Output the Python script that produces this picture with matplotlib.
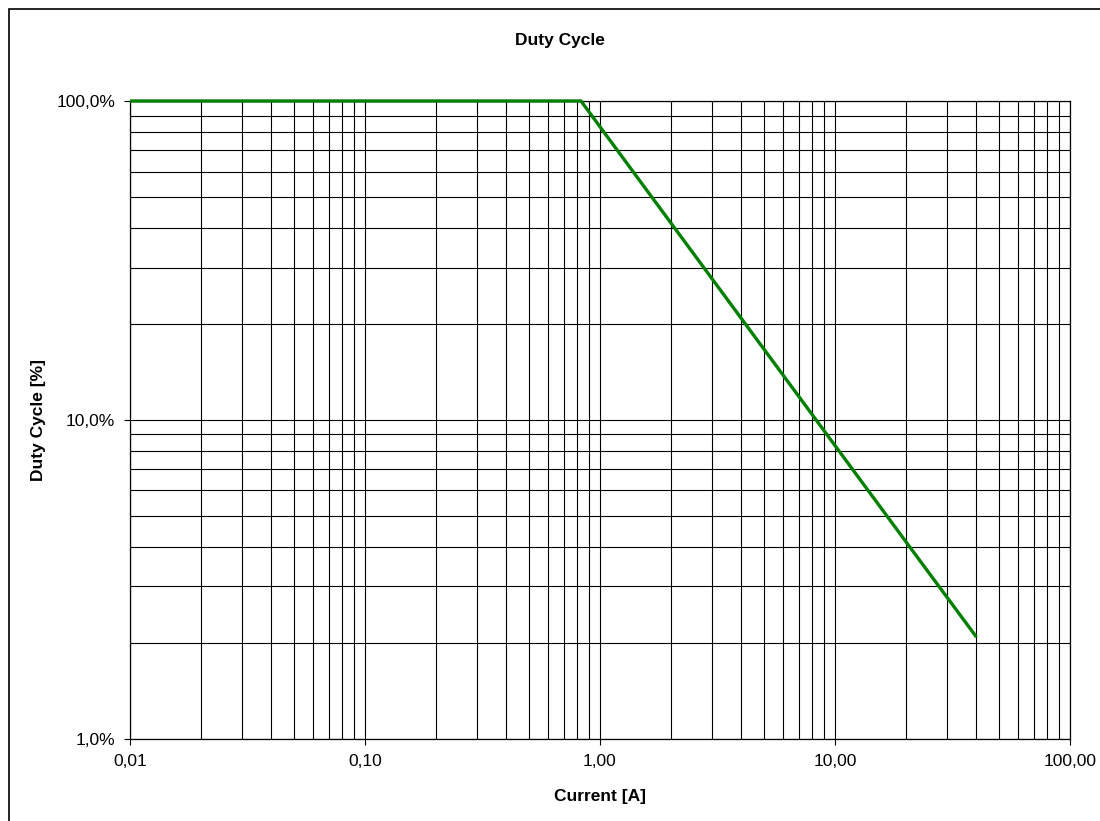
import matplotlib
matplotlib.use("Agg")
import matplotlib.pyplot as plt
from matplotlib.ticker import LogLocator, NullFormatter
from matplotlib.patches import Rectangle

plt.rcParams["font.family"] = ["Liberation Sans", "DejaVu Sans"]

# ── Data ──────────────────────────────────────────────────────────────────────
current = [0.01, 0.83, 1.0, 2.0, 5.0, 10.0, 20.0, 40.0]
duty = [1.0, 1.0, 0.83, 0.415, 0.166, 0.083, 0.0415, 0.0208]

x_ticks = [0.01, 0.1, 1, 10, 100]
x_labels = ["0,01", "0,10", "1,00", "10,00", "100,00"]
y_ticks = [0.01, 0.1, 1.0]
y_labels = ["1,0%", "10,0%", "100,0%"]

W, H = 1100, 821
fig = plt.figure(figsize=(W / 100, H / 100), dpi=100)
ax = fig.add_axes([130 / W, 1 - 738.5 / H, 940 / W, 637.5 / H])

# outer chart border (only left and top fall inside the picture)
fig.patches.append(Rectangle((8.5 / W, -0.1), 1.2, 1.1 - 9 / H, transform=fig.transFigure,
                             fill=False, edgecolor="black", linewidth=1.2))

ax.plot(current, duty, color="#008000", linewidth=2.4, solid_capstyle="butt",
        zorder=3, clip_on=False)

ax.set_xscale("log")
ax.set_yscale("log")
ax.set_xlim(0.01, 100)
ax.set_ylim(0.01, 1.0)

ax.xaxis.set_minor_locator(LogLocator(base=10, subs=range(2, 10), numticks=10))
ax.yaxis.set_minor_locator(LogLocator(base=10, subs=range(2, 10), numticks=10))
ax.set_xticks(x_ticks)
ax.set_xticklabels(x_labels)
ax.set_yticks(y_ticks)
ax.set_yticklabels(y_labels)
ax.xaxis.set_minor_formatter(NullFormatter())
ax.yaxis.set_minor_formatter(NullFormatter())

ax.grid(True, which="both", color="black", linewidth=0.8)
ax.tick_params(which="major", length=4.3, width=0.8, labelsize=12.5)
ax.tick_params(axis="x", which="major", pad=7)
ax.tick_params(axis="y", which="major", pad=6.5)
ax.tick_params(which="minor", length=0)
for s in ax.spines.values():
    s.set_linewidth(0.9)

fig.text(559.5 / W, 1 - 40.5 / H, "Duty Cycle", ha="center", va="center",
         fontsize=12.5, fontweight="bold")

ax.set_xlabel("Current [A]", fontsize=12.5, fontweight="bold")
ax.xaxis.label.set_va("center")
ax.xaxis.set_label_coords(0.5, (738.5 - 796) / 637.5)
ax.set_ylabel("Duty Cycle [%]", fontsize=12.5, fontweight="bold")
ax.yaxis.label.set_va("center")
ax.yaxis.set_label_coords((39 - 130) / 940, 0.5)

fig.savefig("out.png", dpi=100)
